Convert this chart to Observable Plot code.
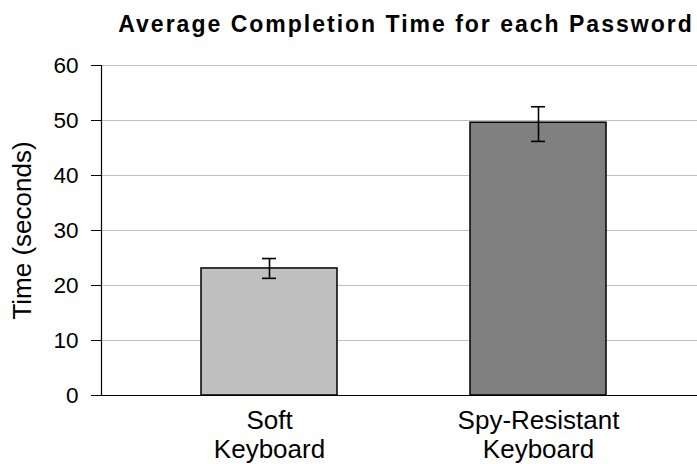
<!DOCTYPE html>
<html>
<head>
<meta charset="utf-8">
<script src="https://cdn.jsdelivr.net/npm/d3@7"></script>
<script src="https://cdn.jsdelivr.net/npm/@observablehq/plot@0.6"></script>
<style>
  body { margin: 0; background: #fff; font-family: "Liberation Sans", Arial, sans-serif; }
  #title { position: relative; height: 45px; width: 697px; }
  #title span { position: absolute; left: 406px; top: 13px; transform: translateX(-50%);
    font-size: 23px; line-height: 23px; font-weight: bold; letter-spacing: 2px; white-space: nowrap; color: #000; }
</style>
</head>
<body>
<div id="title"><span>Average Completion Time for each Password</span></div>
<div id="chart"></div>
<script>
const categories = ["Soft\nKeyboard", "Spy-Resistant\nKeyboard"];
const means = [23.1, 49.6];
const errLow = [21.3, 46.2];
const errHigh = [24.9, 52.5];
const barColors = ["#c0c0c0", "#808080"];
const yTicks = [0, 10, 20, 30, 40, 50, 60];
const yLabel = "Time (seconds)";

const data = categories.map((c, i) => ({cat: c, mean: means[i], lo: errLow[i], hi: errHigh[i]}));

const chart = Plot.plot({
  width: 697,
  height: 419,
  marginLeft: 101,
  marginRight: 0,
  marginTop: 20,
  marginBottom: 69,
  style: {fontFamily: "'Liberation Sans', Arial, sans-serif", background: "white", color: "black", overflow: "visible"},
  x: {domain: categories, range: [101, 706], paddingInner: 0.4926, paddingOuter: 0.3667},
  y: {domain: [0, 60]},
  color: {domain: categories, range: barColors},
  marks: [
    Plot.ruleY(yTicks.filter(d => d > 0), {stroke: "#c0c0c0", strokeWidth: 1}),
    Plot.barY(data, {x: "cat", y: "mean", fill: "cat", stroke: "black", strokeWidth: 1.5}),
    Plot.ruleX(data, {x: "cat", y1: "lo", y2: "hi", stroke: "black", strokeWidth: 1.6}),
    Plot.tickY(data, {x: "cat", y: "lo", insetLeft: 61, insetRight: 61, stroke: "black", strokeWidth: 1.6}),
    Plot.tickY(data, {x: "cat", y: "hi", insetLeft: 61, insetRight: 61, stroke: "black", strokeWidth: 1.6}),
    Plot.ruleY([0], {stroke: "black", strokeWidth: 1.2}),
    Plot.frame({anchor: "left", stroke: "black", strokeWidth: 1.2}),
    Plot.axisY({ticks: yTicks, tickSize: 10, tickPadding: 13, fontSize: 22.5, label: null}),
    Plot.axisX({tickSize: 0, tickPadding: 14, fontSize: 26, lineHeight: 1.08, label: null}),
    Plot.text([yLabel], {frameAnchor: "left", textAnchor: "middle", rotate: -90, dx: -71, fontSize: 26, lineAnchor: "bottom"})
  ]
});
document.getElementById("chart").appendChild(chart);
</script>
</body>
</html>
